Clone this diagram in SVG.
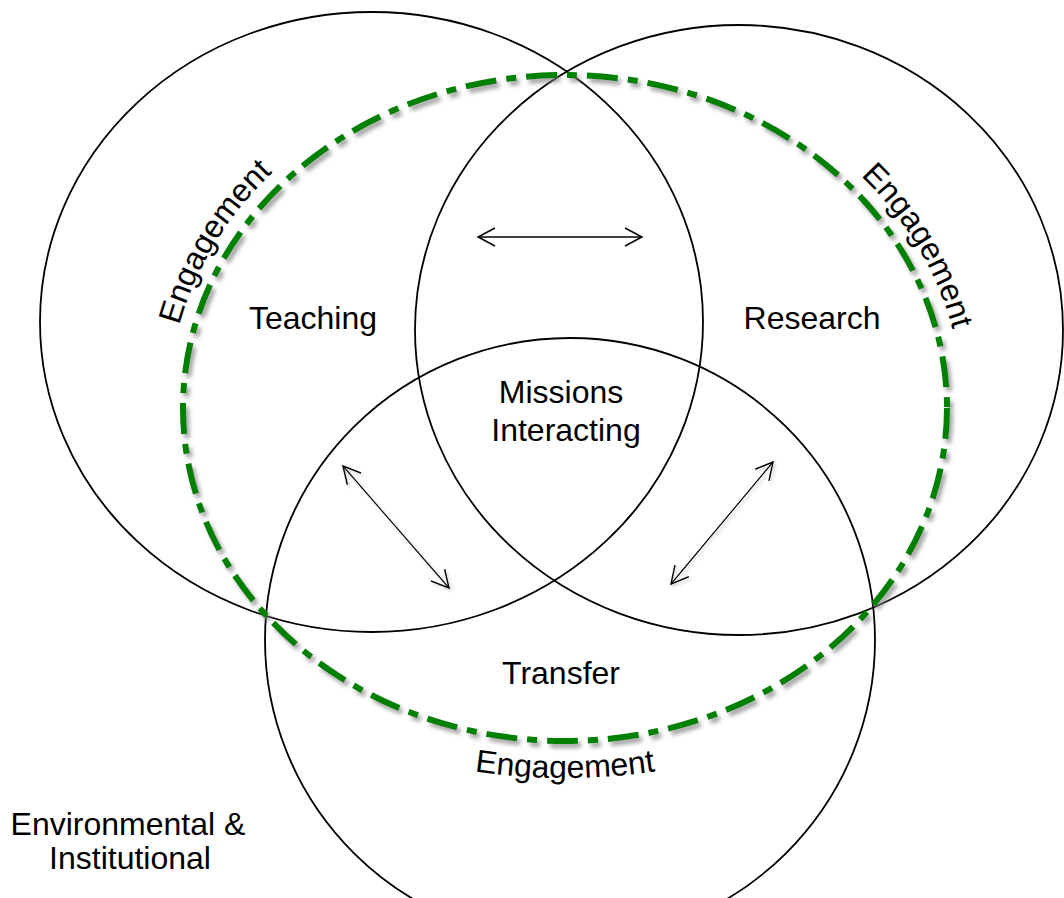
<svg xmlns="http://www.w3.org/2000/svg" xmlns:xlink="http://www.w3.org/1999/xlink" width="1064" height="898" viewBox="0 0 1064 898">
  <style>
    .ring { fill: none; stroke: #000; stroke-width: 1.8; }
    .engage { fill: none; stroke: #008000; stroke-width: 6; stroke-dasharray: 31 10 10 10; }
    .label { font-family: "Liberation Sans", Arial, sans-serif; font-size: 32px; fill: #000; }
    .link { fill: none; stroke: #000; }
  </style>
  <defs>
    <filter id="shadow" x="-10%" y="-10%" width="120%" height="120%">
      <feDropShadow dx="3" dy="4" stdDeviation="2.2" flood-color="#7a7a7a" flood-opacity="0.7"/>
    </filter>
    <filter id="softShadow" x="-20%" y="-20%" width="140%" height="140%">
      <feDropShadow dx="2" dy="2" stdDeviation="1.5" flood-color="#909090" flood-opacity="0.45"/>
    </filter>
    <marker id="head" markerUnits="userSpaceOnUse" markerWidth="24" markerHeight="24" viewBox="-20 -12 24 24" refX="0" refY="0" orient="auto-start-reverse">
      <path d="M-17,-9 L0,0 L-17,9" fill="none" stroke="#000" stroke-width="1.5"/>
    </marker>
    <!-- baselines for the curved labels -->
    <path id="arcLeft" d="M168.4,423.1 A397,347 0 0 1 352.2,114.3"/>
    <path id="arcRight" d="M781.8,116.6 A398,348 0 0 1 962.4,427.4"/>
    <path id="arcBottom" d="M380,749.4 A480,370 0 0 0 750,749.4"/>
  </defs>

  <rect width="1064" height="898" fill="#fff"/>

  <!-- mission circles -->
  <g id="teaching">
    <ellipse class="ring" cx="371.5" cy="322" rx="331.5" ry="310"/>
    <text class="label" x="313" y="329" text-anchor="middle">Teaching</text>
  </g>
  <g id="research">
    <ellipse class="ring" cx="739" cy="330" rx="324" ry="305"/>
    <text class="label" x="812" y="329" text-anchor="middle">Research</text>
  </g>
  <g id="transfer">
    <ellipse class="ring" cx="570" cy="640" rx="305" ry="302"/>
    <text class="label" x="561" y="684" text-anchor="middle">Transfer</text>
  </g>

  <!-- engagement ring -->
  <g id="engagement">
    <ellipse class="engage" cx="565" cy="408" rx="382" ry="333" filter="url(#shadow)"/>
    <text class="label"><textPath xlink:href="#arcLeft" startOffset="50%" text-anchor="middle">Engagement</textPath></text>
    <text class="label"><textPath xlink:href="#arcRight" startOffset="50%" text-anchor="middle">Engagement</textPath></text>
    <text class="label"><textPath xlink:href="#arcBottom" startOffset="50%" text-anchor="middle">Engagement</textPath></text>
  </g>

  <g id="centre">
    <text class="label" x="561" y="403" text-anchor="middle">Missions</text>
    <text class="label" x="566" y="441" text-anchor="middle">Interacting</text>
  </g>

  <g id="context">
    <text class="label" x="128" y="835" text-anchor="middle">Environmental &amp;</text>
    <text class="label" x="130" y="869" text-anchor="middle">Institutional</text>
  </g>

  <!-- interaction arrows -->
  <g id="connectors">
    <line class="link" x1="478" y1="237" x2="642" y2="237" stroke-width="1.6" marker-start="url(#head)" marker-end="url(#head)"/>
    <g filter="url(#softShadow)">
      <line class="link" x1="343" y1="466" x2="449" y2="588" stroke-width="1.2" marker-start="url(#head)" marker-end="url(#head)"/>
      <line class="link" x1="773" y1="462" x2="671" y2="584" stroke-width="1.2" marker-start="url(#head)" marker-end="url(#head)"/>
    </g>
  </g>
</svg>
